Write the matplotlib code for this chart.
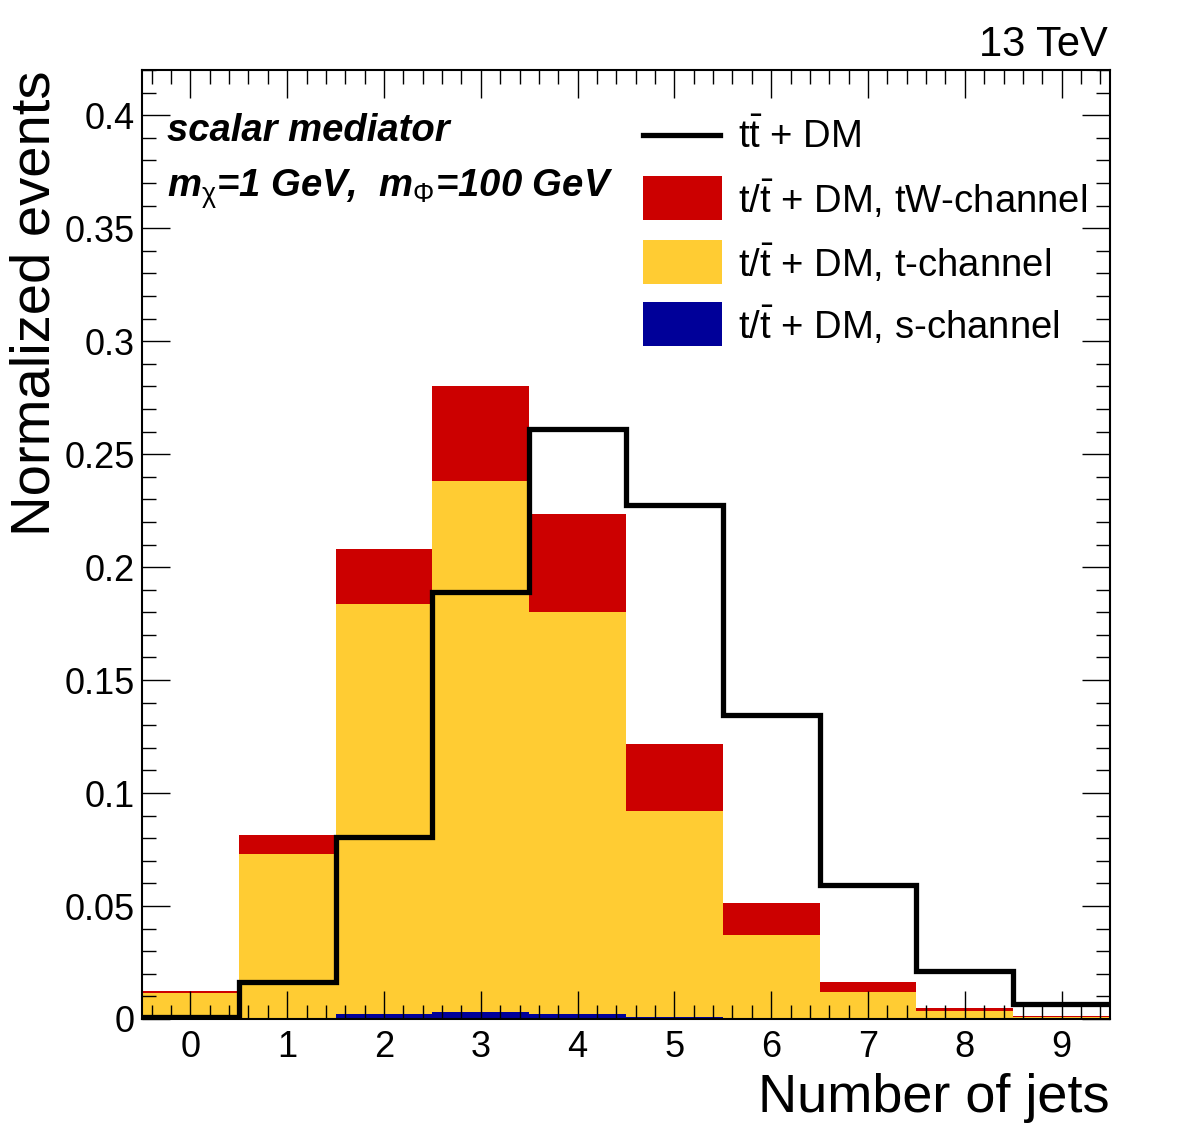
import matplotlib
matplotlib.use("Agg")
import matplotlib.pyplot as plt
import numpy as np
from matplotlib.ticker import MultipleLocator, FuncFormatter
from matplotlib.patches import Rectangle
from matplotlib.lines import Line2D

plt.rcParams['font.family'] = ['Liberation Sans', 'DejaVu Sans']
plt.rcParams['mathtext.fontset'] = 'custom'
plt.rcParams['mathtext.rm'] = 'Liberation Sans'
plt.rcParams['mathtext.it'] = 'Liberation Sans:italic:bold'
plt.rcParams['mathtext.bf'] = 'Liberation Sans:bold'

# ---- data ----
njets = [0, 1, 2, 3, 4, 5, 6, 7, 8, 9]
s_channel = [0.0, 0.0005, 0.002, 0.003, 0.002, 0.001, 0.0005, 0.0002, 0.0001, 0.0]
t_channel = [0.0115, 0.0725, 0.1815, 0.235, 0.178, 0.091, 0.0365, 0.0118, 0.0036, 0.001]
tw_channel = [0.0009, 0.0085, 0.0245, 0.042, 0.0437, 0.0296, 0.0143, 0.0044, 0.0012, 0.0003]
ttbar_dm = [0.001, 0.0164, 0.0805, 0.189, 0.261, 0.2277, 0.1344, 0.0592, 0.0212, 0.0066]

labels = [r"$\mathregular{t\bar{t}}$ + DM",
          r"$\mathregular{t/\bar{t}}$ + DM, tW-channel",
          r"$\mathregular{t/\bar{t}}$ + DM, t-channel",
          r"$\mathregular{t/\bar{t}}$ + DM, s-channel"]
c_red = '#CC0000'
c_yel = '#FFCC33'
c_blu = '#000099'

W, H = 1182, 1146
fig = plt.figure(figsize=(W / 100, H / 100), dpi=100)
ax = fig.add_axes([142 / W, 1 - 1019 / H, (1110 - 142) / W, (1019 - 70) / H])

x = np.array(njets, dtype=float)
s = np.array(s_channel)
t = np.array(t_channel)
tw = np.array(tw_channel)
ax.bar(x, s, width=1.0, color=c_blu, linewidth=0)
ax.bar(x, t, width=1.0, bottom=s, color=c_yel, linewidth=0)
ax.bar(x, tw, width=1.0, bottom=s + t, color=c_red, linewidth=0)

edges = np.append(x - 0.5, x[-1] + 0.5)
ax.stairs(ttbar_dm, edges, color='black', linewidth=3.8, baseline=None)

ax.set_xlim(-0.5, 9.5)
ax.set_ylim(0, 0.42)

ax.xaxis.set_major_locator(MultipleLocator(1))
ax.xaxis.set_minor_locator(MultipleLocator(0.2))
ax.yaxis.set_major_locator(MultipleLocator(0.05))
ax.yaxis.set_minor_locator(MultipleLocator(0.01))
ax.yaxis.set_major_formatter(FuncFormatter(lambda v, p: "%g" % round(v, 4)))
ax.tick_params(which='both', direction='in', top=True, right=True, width=1.0, labelsize=26)
ax.tick_params(which='major', length=20)
ax.tick_params(which='minor', length=10)
ax.tick_params(axis='x', pad=8)
ax.tick_params(axis='y', pad=5)
for sp in ax.spines.values():
    sp.set_linewidth(1.5)

ax.set_xlabel("Number of jets", fontsize=39, loc='right')
ax.xaxis.set_label_coords(1.0, -0.057)
ax.set_ylabel("Normalized events", fontsize=40.5, loc='top')
ax.yaxis.set_label_coords(-0.0835, 1.0)

def fx(px):
    return px / W

def fy(py):
    return 1 - py / H

fig.text(fx(1108), fy(45), "13 TeV", fontsize=30, ha='right', va='center')
fig.text(fx(167), fy(131), "scalar mediator", fontsize=27.5, fontweight='bold',
         style='italic', ha='left', va='center')
fig.text(fx(167), fy(189), r"$m_{\mathrm{\chi}}$=1 GeV,  $m_{\mathrm{\Phi}}$=100 GeV", fontsize=27.5,
         fontweight='bold', style='italic', ha='left', va='center')

# legend (drawn manually)
rows = [135, 198, 262, 324]
fig.add_artist(Line2D([fx(643), fx(720)], [fy(rows[0])] * 2, color='black',
                      linewidth=3.8, transform=fig.transFigure))
for yy, col in zip(rows[1:], [c_red, c_yel, c_blu]):
    fig.add_artist(Rectangle((fx(643), fy(yy + 22)), fx(722) - fx(643), fy(yy - 22) - fy(yy + 22),
                             facecolor=col, edgecolor='none', transform=fig.transFigure))
for yy, lab in zip(rows, labels):
    fig.text(fx(738), fy(yy + 2), lab, fontsize=27.5, ha='left', va='center')

fig.savefig("out.png", dpi=100)
